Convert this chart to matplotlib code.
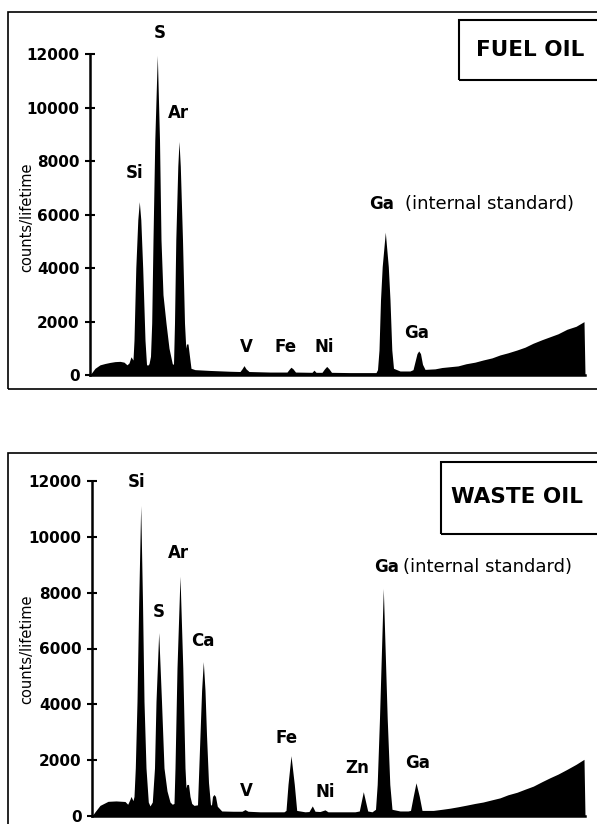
import matplotlib.pyplot as plt
from matplotlib.patches import Rectangle

W, H = 597, 824

# spectrum outlines (channel, counts)
fuel_ch = [0, 2, 5, 10, 15, 20, 25, 30, 34, 37, 39, 41, 43,
           44, 45.8, 47.8, 49.3, 50.8, 52.7, 55, 56.5, 57.5,
           59, 60.5, 61.7, 63, 64.8, 67.3, 69.5, 71, 73, 76, 79, 82.3,
           83.5, 84.5, 85.8, 87.8, 89, 90.3, 92.5, 94.5, 95.8, 96.5, 98, 99.5, 101,
           105, 120, 140, 150, 152, 154, 156, 159, 180, 197,
           199.5, 201, 203, 205.5, 222, 224, 226,
           232, 234.5, 236.7, 239, 241.5, 260, 286,
           287.5, 289, 290.5, 292.2, 295.3, 298.3, 300, 301.8, 303.5,
           310, 320, 323, 325, 327, 328.7, 330.5, 332.5, 335,
           345, 352, 360, 368, 376, 385, 393, 402, 410, 418, 427, 435,
           443, 452, 460, 468, 477, 486, 494, 495]
fuel_counts = [0, 100, 250, 380, 430, 470, 500, 510, 480, 380, 450, 680, 560,
               1300, 4000, 5800, 6480, 5800, 4000, 1300, 400, 360,
               420, 700, 1940, 5050, 8790, 11950, 8790, 5050, 3000, 1940, 1000, 420,
               400, 1940, 5050, 7800, 8730, 7800, 5050, 1940, 1000, 1160, 1160, 700, 250,
               200, 170, 140, 130, 230, 350, 230, 130, 110, 110,
               230, 290, 230, 110, 100, 180, 100,
               100, 230, 320, 230, 100, 90, 90,
               200, 935, 2800, 4050, 5340, 4050, 2800, 935, 250,
               150, 150, 200, 500, 800, 900, 800, 400, 210,
               230, 280, 310, 340, 420, 480, 560, 640, 750, 830, 935, 1040,
               1185, 1320, 1430, 1540, 1710, 1820, 1995, 0]

waste_ch = [2, 5, 10, 18, 26, 35, 37.7, 40, 41, 43,
            44, 45.3, 47, 48.7, 50.7, 52.5, 54, 56, 58.3, 60,
            62.3, 64.5, 66, 68.7, 71.5, 74, 77, 80, 82.3,
            84, 85, 87, 90, 92.8, 95, 96, 96.8, 98.5, 100, 101.7, 104,
            107.5, 110, 111.6, 113.3, 115, 116.5, 118.5, 120.5,
            121.5, 122.5, 124, 125.5, 127.3, 131.7, 143,
            152, 155, 158, 170, 194,
            196, 198, 201, 204.3, 206.7,
            215, 219, 222.3, 225, 230, 235, 238, 265,
            269.3, 273.3, 277.7, 282,
            285.5, 287.2, 289.5, 293.3, 297.2, 299.8, 302,
            310, 318, 320.5, 323.2, 326, 329.3, 332,
            343.3, 352, 360, 368, 376.7, 385, 393, 402, 410, 418, 427, 435,
            443.3, 452, 460, 468, 476.7, 486, 494, 495]
waste_counts = [0, 150, 380, 525, 540, 520, 420, 600, 700, 550,
                700, 1720, 4100, 7670, 11120, 7670, 4100, 1720, 500, 360,
                500, 1720, 4100, 6570, 4100, 1720, 900, 500, 420,
                450, 1720, 5300, 8590, 5300, 1720, 1000, 1130, 1130, 700, 450, 380,
                400, 2910, 4500, 5530, 4500, 2910, 1200, 400,
                400, 700, 770, 700, 350, 180, 170,
                170, 230, 170, 150, 150,
                200, 1130, 2160, 1130, 200,
                150, 160, 360, 170, 160, 220, 150, 150,
                180, 870, 180, 150,
                240, 1130, 3510, 8150, 3510, 1130, 240,
                180, 180, 200, 700, 1190, 700, 200,
                200, 240, 280, 330, 390, 450, 500, 580, 650, 760, 850, 960,
                1070, 1230, 1370, 1500, 1665, 1850, 2030, 0]

yticks = [0, 2000, 4000, 6000, 8000, 10000, 12000]

# element labels (text, channel, counts)
fuel_labels = [("S", 70, 12790), ("Si", 45, 7555), ("Ar", 88, 9800),
               ("V", 156, 1047), ("Fe", 196, 1047), ("Ni", 234, 1047),
               ("Ga", 327, 1570)]
waste_labels = [("Si", 47, 11960), ("Ar", 88, 9430), ("S", 69, 7320),
                ("Ca", 113, 6285), ("V", 156, 893), ("Fe", 196.7, 2785),
                ("Ni", 235, 857), ("Zn", 266.7, 1714), ("Ga", 328, 1893)]


def fx(px):
    return px / W


def fy(py):
    return 1 - py / H


fig = plt.figure(figsize=(W / 100, H / 100), dpi=100)
plt.rcParams['font.family'] = 'DejaVu Sans'


def panel(left, right, y0, y12, ch, counts, labels, ga_left, std_left, ga_y):
    ax = fig.add_axes([fx(left), fy(y0), fx(right) - fx(left), (y0 - y12) / H])
    ax.fill_between(ch, counts, 0, color='black', linewidth=0)
    ax.set_xlim(ch[0], 495)
    ax.set_ylim(0, 12000)
    ax.set_yticks(yticks)
    ax.set_yticklabels([str(t) for t in yticks], fontsize=11, fontweight='bold')
    ax.set_xticks([])
    ax.tick_params(axis='y', direction='inout', length=7, width=1.5, pad=4)
    for s in ['top', 'right']:
        ax.spines[s].set_visible(False)
    ax.spines['left'].set_linewidth(1.8)
    ax.spines['bottom'].set_linewidth(1.8)
    ax.patch.set_alpha(0)
    for txt, cx, cy in labels:
        ax.text(cx, cy, txt, ha='center', va='center', fontsize=12,
                fontweight='bold', clip_on=False)
    ax.text(ga_left, ga_y, "Ga", ha='left', va='center', fontsize=12,
            fontweight='bold')
    ax.text(std_left, ga_y, "(internal standard)", ha='left', va='center',
            fontsize=13)
    return ax


panel(90, 585, 375, 54, fuel_ch, fuel_counts, fuel_labels, 279, 315, 6395)
panel(92, 585, 816, 481, waste_ch, waste_counts, waste_labels, 284, 313, 8930)

fig.text(fx(27), fy(217), "counts/lifetime", rotation=90, ha='center',
         va='center', fontsize=10.5)
fig.text(fx(27), fy(649), "counts/lifetime", rotation=90, ha='center',
         va='center', fontsize=10.5)

# outer frames and title boxes
for x0, y0, x1, y1, lw in [(8, 12, 605, 389, 1.2), (8, 453, 605, 835, 1.2),
                           (459, 20, 605, 80, 1.5), (441, 462, 605, 534, 1.5)]:
    fig.patches.append(Rectangle((fx(x0), fy(y1)), fx(x1) - fx(x0),
                                 (y1 - y0) / H, transform=fig.transFigure,
                                 fill=False, edgecolor='black', linewidth=lw))

fig.text(fx(530), fy(50), "FUEL OIL", ha='center', va='center', fontsize=15.5,
         fontweight='bold')
fig.text(fx(517), fy(497), "WASTE OIL", ha='center', va='center', fontsize=15.5,
         fontweight='bold')

fig.savefig("out.png", dpi=100)
